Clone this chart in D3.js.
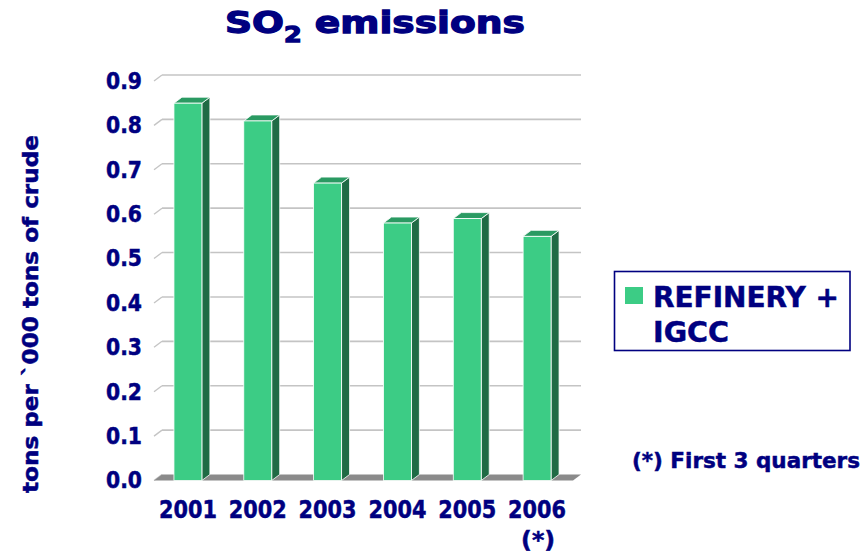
<!DOCTYPE html>
<html>
<head>
<meta charset="utf-8">
<script src="https://cdn.jsdelivr.net/npm/d3@7"></script>
<style>
  html, body { margin: 0; padding: 0; background: #fff; }
  svg { display: block; }
  text { font-family: "DejaVu Sans", Verdana, sans-serif; font-weight: bold; fill: #000080;
         stroke: #000080; stroke-width: 0.5px; }
</style>
</head>
<body>
<svg id="chart" width="867" height="556"></svg>
<script>
const years = ["2001", "2002", "2003", "2004", "2005", "2006"];
const values = [0.85, 0.81, 0.67, 0.58, 0.59, 0.55];
const yTicks = [0, 0.1, 0.2, 0.3, 0.4, 0.5, 0.6, 0.7, 0.8, 0.9];
const seriesName = ["REFINERY +", "IGCC"];
const footnote = "(*) First 3 quarters";
const yTitle = "tons per `000 tons of crude";

const svg = d3.select("#chart");
const DX = 8, DY = 6;            // 3D depth offset
const x = d3.scaleBand().domain(years).range([154, 573]).padding(0);
const yBack = d3.scaleLinear().domain([0, 0.9]).range([474.5, 75]);
const yFront = v => yBack(v) + DY;
const barW = x.bandwidth() * 0.4;

const cFront = "#3ccc85", cSide = "#1f6b45", cTop = "#2a9a62";

// back wall gridlines with oblique stubs on the left
const grid = svg.append("g");
yTicks.forEach(t => {
  const yb = yBack(t);
  if (t > 0) {
    grid.append("line").attr("x1", 154 + DX).attr("x2", 581).attr("y1", yb).attr("y2", yb)
      .attr("stroke", "#c4c4c4").attr("stroke-width", 1.6);
  }
  grid.append("line").attr("x1", 154).attr("y1", yb + DY).attr("x2", 154 + DX).attr("y2", yb)
    .attr("stroke", "#c4c4c4").attr("stroke-width", 1.3);
});

// floor
svg.append("path")
  .attr("d", `M154,${yFront(0)} L573,${yFront(0)} L${573 + DX},${yBack(0)} L${154 + DX},${yBack(0)} Z`)
  .attr("fill", "#8a8a8a");

// bars
const bars = svg.append("g").selectAll("g").data(years).join("g");
bars.each(function(yr, i) {
  const g = d3.select(this);
  const cx = x(yr) + x.bandwidth() / 2 - 1;
  const x0 = cx - barW / 2, x1 = cx + barW / 2;
  const yt = yFront(values[i]), y0 = yFront(0);
  g.append("path")
    .attr("d", `M${x1},${yt} L${x1 + DX},${yt - DY} L${x1 + DX},${y0 - DY} L${x1},${y0} Z`)
    .attr("fill", cSide).attr("stroke", "#fff").attr("stroke-width", 0.8);
  g.append("path")
    .attr("d", `M${x0},${yt} L${x0 + DX},${yt - DY} L${x1 + DX},${yt - DY} L${x1},${yt} Z`)
    .attr("fill", cTop).attr("stroke", "#fff").attr("stroke-width", 0.8);
  g.append("rect").attr("x", x0).attr("y", yt).attr("width", barW).attr("height", y0 - yt)
    .attr("fill", cFront).attr("stroke", "#fff").attr("stroke-width", 0.8);
});

// y axis
const yAxisScale = d3.scaleLinear().domain([0, 0.9]).range([yFront(0), yFront(0.9)]);
const yAxis = svg.append("g").attr("transform", "translate(150,0)")
  .call(d3.axisLeft(yAxisScale).tickValues(yTicks).tickSize(0).tickPadding(8).tickFormat(d3.format(".1f")));
yAxis.select(".domain").remove();
yAxis.selectAll("text").attr("font-size", 23).attr("fill", "#000080")
  .attr("font-family", null).attr("font-weight", "bold")
  .attr("textLength", 36).attr("lengthAdjust", "spacingAndGlyphs");

// x axis
const xAxis = svg.append("g").attr("transform", `translate(-1,${yFront(0)})`)
  .call(d3.axisBottom(x).tickSize(0).tickPadding(20));
xAxis.select(".domain").remove();
xAxis.selectAll("text").attr("font-size", 25).attr("fill", "#000080")
  .attr("font-family", null).attr("font-weight", "bold")
  .attr("textLength", 58).attr("lengthAdjust", "spacingAndGlyphs");
svg.append("text").attr("x", x("2006") + x.bandwidth() / 2).attr("y", 548)
  .attr("text-anchor", "middle").attr("font-size", 23)
  .attr("textLength", 34).attr("lengthAdjust", "spacingAndGlyphs").text("(*)");

// title
const title = svg.append("text").attr("x", 375).attr("y", 33).attr("text-anchor", "middle")
  .attr("font-size", 31).style("stroke-width", "1.3px");
title.append("tspan").text("SO");
title.append("tspan").attr("font-size", 21).attr("dy", 9).text("2");
title.append("tspan").attr("dy", -9).text(" emissions");
{
  const bb = title.node().getBBox();
  const k = 300 / bb.width;
  title.attr("transform", `translate(${225 - k * bb.x},0) scale(${k},1)`);
}

// y title
svg.append("text").attr("transform", "translate(38,314) rotate(-90)")
  .attr("text-anchor", "middle").attr("font-size", 21)
  .attr("textLength", 358).attr("lengthAdjust", "spacingAndGlyphs").text(yTitle);

// legend
svg.append("rect").attr("x", 614.5).attr("y", 271.5).attr("width", 235.5).attr("height", 79)
  .attr("fill", "none").attr("stroke", "#000080").attr("stroke-width", 1.6);
svg.append("rect").attr("x", 625).attr("y", 287).attr("width", 18).attr("height", 17).attr("fill", cFront);
svg.append("text").attr("x", 653).attr("y", 306.5).attr("font-size", 29)
  .attr("textLength", 186).attr("lengthAdjust", "spacingAndGlyphs").text(seriesName[0]);
svg.append("text").attr("x", 653).attr("y", 341.5).attr("font-size", 29)
  .attr("textLength", 76).attr("lengthAdjust", "spacingAndGlyphs").text(seriesName[1]);

// footnote
svg.append("text").attr("x", 632).attr("y", 468).attr("font-size", 22)
  .attr("textLength", 228).attr("lengthAdjust", "spacingAndGlyphs").text(footnote);
</script>
</body>
</html>
